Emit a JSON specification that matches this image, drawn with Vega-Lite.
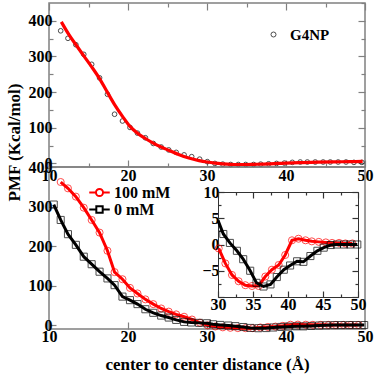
{
"$schema": "https://vega.github.io/schema/vega-lite/v6.json",
"background": "white",
"padding": {"left": 4, "top": 1, "right": 2, "bottom": 2},
"datasets": {
 "g4np": [
  {"x":11.48,"pmf":372},{"x":12.4,"pmf":351},{"x":13.4,"pmf":333},{"x":14.4,"pmf":306},{"x":15.4,"pmf":278},{"x":16.4,"pmf":240},{"x":17.4,"pmf":194},{"x":18.3,"pmf":138},{"x":19.3,"pmf":119},{"x":20.25,"pmf":101},{"x":21.2,"pmf":85},{"x":22.2,"pmf":72},{"x":23.2,"pmf":56},{"x":24.2,"pmf":46},{"x":25.15,"pmf":38},{"x":26.1,"pmf":31},{"x":27.1,"pmf":24},{"x":28.06,"pmf":19},{"x":29.07,"pmf":12},{"x":30.04,"pmf":5},{"x":31.0,"pmf":0},{"x":32.0,"pmf":-2},{"x":33.0,"pmf":-3},{"x":33.96,"pmf":-3},{"x":34.9,"pmf":-3},{"x":35.9,"pmf":-3},{"x":36.8,"pmf":-2},{"x":37.8,"pmf":-1},{"x":38.8,"pmf":0},{"x":39.8,"pmf":1},{"x":40.8,"pmf":3},{"x":41.8,"pmf":4},{"x":42.7,"pmf":4},{"x":43.7,"pmf":4},{"x":44.7,"pmf":4},{"x":45.6,"pmf":4},{"x":46.6,"pmf":4},{"x":47.6,"pmf":4},{"x":48.6,"pmf":3},{"x":49.6,"pmf":3}
 ],
 "fit": [
  {"x":11.56,"pmf":397},{"x":12.5,"pmf":362},{"x":13.5,"pmf":330},{"x":14.43,"pmf":301},{"x":15.4,"pmf":271},{"x":16.4,"pmf":238},{"x":17.38,"pmf":200},{"x":18.3,"pmf":165},{"x":19.3,"pmf":132},{"x":20.25,"pmf":104},{"x":21.2,"pmf":85},{"x":22.2,"pmf":70},{"x":23.2,"pmf":57},{"x":24.2,"pmf":46},{"x":25.15,"pmf":37},{"x":26.4,"pmf":25},{"x":27.7,"pmf":15},{"x":29,"pmf":8},{"x":30,"pmf":4},{"x":31,"pmf":1},{"x":32,"pmf":-1},{"x":33,"pmf":-2.5},{"x":34,"pmf":-3},{"x":35,"pmf":-3},{"x":36,"pmf":-2.5},{"x":37,"pmf":-2},{"x":38,"pmf":-1},{"x":39,"pmf":0},{"x":40,"pmf":1},{"x":42,"pmf":2.5},{"x":44,"pmf":3.5},{"x":46,"pmf":4.5},{"x":48,"pmf":5},{"x":49.7,"pmf":5.5}
 ],
 "pmf": [
  {"series":"100 mM","x":11.48,"pmf":362},{"series":"100 mM","x":12.4,"pmf":346},{"series":"100 mM","x":13.4,"pmf":325},{"series":"100 mM","x":14.4,"pmf":297},{"series":"100 mM","x":15.4,"pmf":266},{"series":"100 mM","x":16.4,"pmf":234},{"series":"100 mM","x":17.4,"pmf":188},{"series":"100 mM","x":18.3,"pmf":134},{"series":"100 mM","x":19.3,"pmf":116},{"series":"100 mM","x":20.25,"pmf":94},{"series":"100 mM","x":21.2,"pmf":80},{"series":"100 mM","x":22.2,"pmf":65},{"series":"100 mM","x":23.2,"pmf":53},{"series":"100 mM","x":24.2,"pmf":42},{"series":"100 mM","x":25.15,"pmf":34},{"series":"100 mM","x":26.1,"pmf":27},{"series":"100 mM","x":27.1,"pmf":21},{"series":"100 mM","x":28.1,"pmf":14},{"series":"100 mM","x":29.1,"pmf":6},{"series":"100 mM","x":30.1,"pmf":-0.75},{"series":"100 mM","x":31.05,"pmf":-3.6},{"series":"100 mM","x":32.0,"pmf":-5.8},{"series":"100 mM","x":32.95,"pmf":-7.0},{"series":"100 mM","x":33.9,"pmf":-7.75},{"series":"100 mM","x":34.86,"pmf":-7.9},{"series":"100 mM","x":35.8,"pmf":-7.9},{"series":"100 mM","x":36.76,"pmf":-6.1},{"series":"100 mM","x":37.7,"pmf":-4.8},{"series":"100 mM","x":38.67,"pmf":-3.9},{"series":"100 mM","x":39.6,"pmf":-2.0},{"series":"100 mM","x":40.57,"pmf":0.8},{"series":"100 mM","x":41.5,"pmf":1.1},{"series":"100 mM","x":42.5,"pmf":0.8},{"series":"100 mM","x":43.4,"pmf":0.6},{"series":"100 mM","x":44.4,"pmf":0.5},{"series":"100 mM","x":45.4,"pmf":0.4},{"series":"100 mM","x":46.3,"pmf":0.3},{"series":"100 mM","x":47.3,"pmf":0.3},{"series":"100 mM","x":48.2,"pmf":0.2},{"series":"100 mM","x":49.2,"pmf":0.2},
  {"series":"0 mM","x":10.6,"pmf":305},{"series":"0 mM","x":11.48,"pmf":266},{"series":"0 mM","x":12.4,"pmf":230},{"series":"0 mM","x":13.4,"pmf":203},{"series":"0 mM","x":14.4,"pmf":173},{"series":"0 mM","x":15.4,"pmf":154},{"series":"0 mM","x":16.4,"pmf":135},{"series":"0 mM","x":17.4,"pmf":118},{"series":"0 mM","x":18.3,"pmf":101},{"series":"0 mM","x":19.3,"pmf":72},{"series":"0 mM","x":20.25,"pmf":63},{"series":"0 mM","x":21.2,"pmf":53},{"series":"0 mM","x":22.2,"pmf":40},{"series":"0 mM","x":23.2,"pmf":31},{"series":"0 mM","x":24.2,"pmf":24},{"series":"0 mM","x":25.15,"pmf":19},{"series":"0 mM","x":26.1,"pmf":13},{"series":"0 mM","x":27.1,"pmf":8},{"series":"0 mM","x":28.0,"pmf":6.5},{"series":"0 mM","x":29.0,"pmf":5.5},{"series":"0 mM","x":30.0,"pmf":4.6},{"series":"0 mM","x":30.76,"pmf":2.0},{"series":"0 mM","x":31.7,"pmf":0.3},{"series":"0 mM","x":32.7,"pmf":-1.2},{"series":"0 mM","x":33.6,"pmf":-2.8},{"series":"0 mM","x":34.6,"pmf":-5.0},{"series":"0 mM","x":35.5,"pmf":-7.3},{"series":"0 mM","x":36.5,"pmf":-8.0},{"series":"0 mM","x":37.5,"pmf":-7.6},{"series":"0 mM","x":38.4,"pmf":-6.2},{"series":"0 mM","x":39.4,"pmf":-4.8},{"series":"0 mM","x":40.3,"pmf":-4.0},{"series":"0 mM","x":41.3,"pmf":-3.2},{"series":"0 mM","x":42.2,"pmf":-3.3},{"series":"0 mM","x":43.2,"pmf":-2.2},{"series":"0 mM","x":44.2,"pmf":-1.2},{"series":"0 mM","x":45.1,"pmf":-0.6},{"series":"0 mM","x":46.1,"pmf":-0.1},{"series":"0 mM","x":47.0,"pmf":0},{"series":"0 mM","x":48.0,"pmf":0},{"series":"0 mM","x":48.9,"pmf":0},{"series":"0 mM","x":49.9,"pmf":0}
 ]
},
"config": {
 "view": {"stroke": "#808080", "strokeWidth": 1.5},
 "axis": {"labelFont": "Liberation Serif", "labelFontSize": 16, "labelFontWeight": "bold", "labelColor": "black", "titleFont": "Liberation Serif", "titleFontSize": 17, "titleFontWeight": "bold", "titleColor": "black", "grid": false, "domain": false, "tickColor": "#808080", "tickWidth": 1.2, "labelOverlap": false, "labelFlush": false},
 "legend": {"labelFont": "Liberation Serif", "labelFontWeight": "bold", "labelColor": "black", "labelFontSize": 16}
},
"vconcat": [
 {
  "width": 316, "height": 164,
  "layer": [
   {
    "data": {"name": "g4np"},
    "mark": {"type": "point", "shape": "circle", "filled": false, "size": 22, "strokeWidth": 1},
    "encoding": {
     "x": {"field": "x", "type": "quantitative", "scale": {"domain": [10, 50], "nice": false}, "axis": {"orient": "top", "labels": false, "title": null, "values": [10,15,20,25,30,35,40,45,50], "tickSize": {"condition": {"test": "datum.value % 10 === 0", "value": -7}, "value": -4}}},
     "y": {"field": "pmf", "type": "quantitative", "scale": {"domain": [-10, 450], "nice": false, "zero": false}, "axis": {"orient": "right", "labels": false, "title": null, "values": [0,50,100,150,200,250,300,350,400,450], "tickSize": {"condition": {"test": "datum.value % 100 === 0", "value": -7}, "value": -4}}},
     "color": {"datum": "G4NP", "type": "nominal", "scale": {"range": ["black"]}, "legend": {"orient": "none", "legendX": 217, "legendY": 24, "title": null, "symbolType": "circle", "symbolSize": 25, "symbolStrokeWidth": 1, "labelFontSize": 15, "labelOffset": 9}}
    }
   },
   {
    "data": {"name": "fit"},
    "mark": {"type": "line", "color": "#ff0000", "strokeWidth": 3.2, "interpolate": "monotone"},
    "encoding": {
     "x": {"field": "x", "type": "quantitative", "axis": {"orient": "bottom", "title": null, "values": [10,15,20,25,30,35,40,45,50], "labelExpr": "datum.value % 10 === 0 ? datum.label : ''", "labelPadding": 7, "tickSize": {"condition": {"test": "datum.value % 10 === 0", "value": -7}, "value": -4}}},
     "y": {"field": "pmf", "type": "quantitative", "axis": {"orient": "left", "title": null, "values": [0,50,100,150,200,250,300,350,400], "labelExpr": "datum.value % 100 === 0 ? datum.label : ''", "labelPadding": 4, "tickSize": {"condition": {"test": "datum.value % 100 === 0", "value": -7}, "value": -4}}}
    }
   }
  ],
  "resolve": {"axis": {"x": "independent", "y": "independent"}}
 },
 {
  "width": 316, "height": 162,
  "layer": [
   {
    "layer": [
     {
      "data": {"name": "pmf"},
      "transform": [{"filter": "datum.series === '100 mM'"}],
      "mark": {"type": "line", "strokeWidth": 3},
      "encoding": {
       "x": {"field": "x", "type": "quantitative", "scale": {"domain": [10, 50], "nice": false}, "axis": {"orient": "bottom", "title": "center to center distance (Å)", "values": [10,15,20,25,30,35,40,45,50], "labelExpr": "datum.value % 10 === 0 ? datum.label : ''", "labelPadding": 6, "titlePadding": 12, "tickSize": {"condition": {"test": "datum.value % 10 === 0", "value": -7}, "value": -4}}},
       "y": {"field": "pmf", "type": "quantitative", "scale": {"domain": [-10, 400], "nice": false, "zero": false}, "axis": {"orient": "left", "title": "PMF (Kcal/mol)", "titleX": -35, "titleY": -25, "titleAngle": -90, "titleAlign": "center", "titleBaseline": "middle", "values": [0,50,100,150,200,250,300,350,400], "labelExpr": "datum.value % 100 === 0 ? datum.label : ''", "labelPadding": 4, "tickSize": {"condition": {"test": "datum.value % 100 === 0", "value": -7}, "value": -4}}},
       "color": {"field": "series", "type": "nominal", "scale": {"domain": ["100 mM", "0 mM"], "range": ["#ff0000", "#000000"]}, "legend": {"orient": "none", "legendX": 42, "legendY": 17, "title": null, "symbolSize": 200, "symbolStrokeWidth": 2, "labelFontSize": 16, "labelOffset": 6, "rowPadding": -3, "encode": {"symbols": {"update": {"shape": {"signal": "datum.value === '100 mM' ? 'M-1.45,0H-0.5M0.5,0H1.45M-0.5,0A0.5,0.5,0,1,1,0.5,0A0.5,0.5,0,1,1,-0.5,0' : 'M-1.45,0H-0.45M0.45,0H1.45M-0.45,-0.45H0.45V0.45H-0.45Z'"}, "fill": {"value": "transparent"}}}}}}
      }
     },
     {
      "data": {"name": "pmf"},
      "transform": [{"filter": "datum.series === '100 mM'"}],
      "mark": {"type": "point", "shape": "circle", "filled": false, "size": 50, "strokeWidth": 1},
      "encoding": {
       "x": {"field": "x", "type": "quantitative"},
       "y": {"field": "pmf", "type": "quantitative"},
       "color": {"field": "series", "type": "nominal"}
      }
     },
     {
      "data": {"name": "pmf"},
      "transform": [{"filter": "datum.series === '0 mM'"}],
      "mark": {"type": "line", "strokeWidth": 3},
      "encoding": {
       "x": {"field": "x", "type": "quantitative"},
       "y": {"field": "pmf", "type": "quantitative"},
       "color": {"field": "series", "type": "nominal"}
      }
     },
     {
      "data": {"name": "pmf"},
      "transform": [{"filter": "datum.series === '0 mM'"}],
      "mark": {"type": "point", "shape": "square", "filled": false, "size": 50, "strokeWidth": 1},
      "encoding": {
       "x": {"field": "x", "type": "quantitative"},
       "y": {"field": "pmf", "type": "quantitative"},
       "color": {"field": "series", "type": "nominal"}
      }
     }
    ]
   },
   {
    "layer": [
     {
      "data": {"name": "pmf"},
      "transform": [{"filter": "datum.series === '100 mM' && datum.x >= 30"}],
      "mark": {"type": "line", "strokeWidth": 3, "color": "#ff0000"},
      "encoding": {
       "x": {"field": "x", "type": "quantitative", "scale": {"domain": [30, 50], "nice": false, "range": [169, 309]}, "axis": {"orient": "bottom", "offset": -32, "domain": true, "domainColor": "#333", "domainWidth": 1, "title": null, "values": [30,32.5,35,37.5,40,42.5,45,47.5,50], "labelExpr": "datum.value % 5 === 0 ? datum.label : ''", "labelPadding": 5, "tickColor": "#333", "tickSize": {"condition": {"test": "datum.value % 5 === 0", "value": -6}, "value": -3}}},
       "y": {"field": "pmf", "type": "quantitative", "scale": {"domain": [-10, 10], "nice": false, "zero": false, "range": [130, 25]}, "axis": {"orient": "left", "offset": -169, "domain": true, "domainColor": "#333", "domainWidth": 1, "title": null, "values": [-10,-7.5,-5,-2.5,0,2.5,5,7.5,10], "labelExpr": "datum.value % 5 === 0 && datum.value > -10 ? datum.label : ''", "labelPadding": 5, "tickColor": "#333", "tickSize": {"condition": {"test": "datum.value % 5 === 0", "value": -6}, "value": -3}}}
      }
     },
     {
      "data": {"name": "pmf"},
      "transform": [{"filter": "datum.series === '100 mM' && datum.x >= 30"}],
      "mark": {"type": "point", "shape": "circle", "filled": false, "size": 50, "strokeWidth": 1, "color": "#ff0000"},
      "encoding": {
       "x": {"field": "x", "type": "quantitative", "axis": {"orient": "top", "offset": -25, "domain": true, "domainColor": "#333", "domainWidth": 1, "labels": false, "title": null, "values": [30,32.5,35,37.5,40,42.5,45,47.5,50], "tickColor": "#333", "tickSize": {"condition": {"test": "datum.value % 5 === 0", "value": -6}, "value": -3}}},
       "y": {"field": "pmf", "type": "quantitative", "axis": {"orient": "right", "offset": -7, "domain": true, "domainColor": "#333", "domainWidth": 1, "labels": false, "title": null, "values": [-10,-7.5,-5,-2.5,0,2.5,5,7.5,10], "tickColor": "#333", "tickSize": {"condition": {"test": "datum.value % 5 === 0", "value": -6}, "value": -3}}}
      }
     },
     {
      "data": {"name": "pmf"},
      "transform": [{"filter": "datum.series === '0 mM' && datum.x >= 30"}],
      "mark": {"type": "line", "strokeWidth": 3, "color": "#000000"},
      "encoding": {
       "x": {"field": "x", "type": "quantitative", "axis": null},
       "y": {"field": "pmf", "type": "quantitative", "axis": null}
      }
     },
     {
      "data": {"name": "pmf"},
      "transform": [{"filter": "datum.series === '0 mM' && datum.x >= 30.5"}],
      "mark": {"type": "point", "shape": "square", "filled": false, "size": 50, "strokeWidth": 1, "color": "#000000"},
      "encoding": {
       "x": {"field": "x", "type": "quantitative", "axis": null},
       "y": {"field": "pmf", "type": "quantitative", "axis": null}
      }
     }
    ],
    "resolve": {"axis": {"x": "independent", "y": "independent"}}
   }
  ],
  "resolve": {"scale": {"x": "independent", "y": "independent"}}
 }
],
"spacing": 0,
"bounds": "flush",
"resolve": {"scale": {"x": "independent", "y": "independent", "color": "independent"}}
}
